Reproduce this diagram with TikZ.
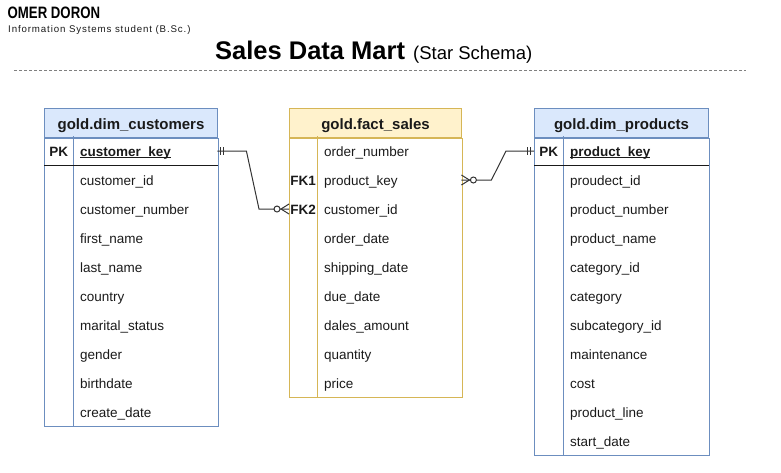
\documentclass[tikz,border=0pt]{standalone}
\usepackage{fontspec}
\setmainfont{Liberation Sans}
\newfontfamily\namefont[FakeStretch=0.8]{Liberation Sans}
\newfontfamily\spacedfont[LetterSpace=9]{Liberation Sans}
\usetikzlibrary{positioning}

\definecolor{dimfill}{HTML}{DAE8FC}
\definecolor{dimline}{HTML}{6C8EBF}
\definecolor{factfill}{HTML}{FFF2CC}
\definecolor{factline}{HTML}{D6B656}
\definecolor{txt}{HTML}{1A1A1A}
\definecolor{relline}{HTML}{333333}

\tikzset{
  tblhead/.style={draw, rectangle, minimum height=29pt, inner sep=0pt, line width=1pt,
    text height=13pt, text depth=1pt, text=txt, font=\fontsize{15}{18}\selectfont\bfseries},
  field/.style={anchor=west, minimum height=29pt, inner xsep=7pt, inner ysep=0pt,
    text height=12pt, text depth=2pt, text width=130pt, align=left, text=txt,
    font=\fontsize{13.5}{16}\selectfont},
  keycol/.style={anchor=west, minimum width=29pt, minimum height=29pt, inner sep=0pt,
    text height=12pt, text depth=2pt, text=txt, font=\fontsize{13.5}{16}\selectfont\bfseries},
  rel/.style={draw=relline, line width=1pt},
  sepline/.style={draw=gray, line width=1pt, dash pattern=on 3pt off 2pt},
}

\begin{document}
\begin{tikzpicture}[x=1pt, y=-1pt]
\useasboundingbox (0,0) rectangle (781,472);

% heading
\node[anchor=base west, inner sep=0pt, text=black,
  font=\fontsize{16.5}{18}\namefont\bfseries] (author) at (7.5,18.3) {OMER DORON};
\node[anchor=base west, inner sep=0pt, text=txt,
  font=\fontsize{9.7}{12}\spacedfont] (role) at (8,32.5) {Information Systems student (B.Sc.)};
\node[anchor=base west, inner sep=0pt, text=black] (title) at (215,59)
  {\fontsize{25.5}{30}\selectfont\bfseries Sales Data Mart\hspace{8pt}\mdseries\fontsize{18.5}{22}\selectfont(Star Schema)};
\coordinate (ruleL) at (14,70);
\coordinate (ruleR) at (746,70);
\draw[sepline] (ruleL) -- (ruleR);

% customers dimension
\node[tblhead, fill=dimfill, draw=dimline, minimum width=173pt, anchor=north west] (cust) at (44,108) {gold.dim\_customers};
\node[keycol] (custpk) at (44,151) {PK};
\foreach \f [count=\i] in {\textbf{\underline{\smash{customer\_key}}}, customer\_id, customer\_number,
    first\_name, last\_name, country, marital\_status, gender, birthdate, create\_date}
  \node[field] (cust\i) at (73,{122+29*\i}) {\f};
\draw[dimline, line width=1pt] (cust.south west) rectangle (cust.south east |- cust10.south);
\draw[dimline, line width=1pt] (cust1.north west) -- (cust10.south west);
\draw[txt, line width=1.2pt] (custpk.south west) -- (cust.east |- custpk.south);

% sales fact
\node[tblhead, fill=factfill, draw=factline, minimum width=172pt, anchor=north west] (fact) at (289,108) {gold.fact\_sales};
\node[keycol, minimum width=28pt] (factfk1) at (289,180) {FK1};
\node[keycol, minimum width=28pt] (factfk2) at (289,209) {FK2};
\foreach \f [count=\i] in {order\_number, product\_key, customer\_id, order\_date, shipping\_date,
    due\_date, dales\_amount, quantity, price}
  \node[field] (fact\i) at (317,{122+29*\i}) {\f};
\draw[factline, line width=1pt] (fact.south west) rectangle (fact.south east |- fact9.south);
\draw[factline, line width=1pt] (fact1.north west) -- (fact9.south west);

% products dimension
\node[tblhead, fill=dimfill, draw=dimline, minimum width=174pt, anchor=north west] (prod) at (534,108) {gold.dim\_products};
\node[keycol] (prodpk) at (534,151) {PK};
\foreach \f [count=\i] in {\textbf{\underline{\smash{product\_key}}}, proudect\_id, product\_number,
    product\_name, category\_id, category, subcategory\_id, maintenance, cost, product\_line, start\_date}
  \node[field] (prod\i) at (563,{122+29*\i}) {\f};
\draw[dimline, line width=1pt] (prod.south west) rectangle (prod.south east |- prod11.south);
\draw[dimline, line width=1pt] (prod1.north west) -- (prod11.south west);
\draw[txt, line width=1.2pt] (prodpk.south west) -- (prod.east |- prodpk.south);

% relationships
\draw[rel] (cust1.east) -- ++(29,0) -- ([xshift=-30pt]factfk2.west) -- (factfk2.west);
\draw[rel] (fact2.east) -- ++(30,0) -- ([xshift=-28pt]prodpk.west) -- (prodpk.west);

% one and only one
\foreach \d in {3,6}
  \draw[rel] ([xshift=\d pt]cust1.east) ++(0,-4) -- ++(0,8);
\foreach \d in {4,7}
  \draw[rel] ([xshift=-\d pt]prodpk.west) ++(0,-4) -- ++(0,8);

% zero or many
\draw[rel] ([yshift=5pt]factfk2.west) -- ([xshift=-8pt]factfk2.west) -- ([yshift=-5pt]factfk2.west);
\draw[rel, fill=white] ([xshift=-12pt]factfk2.west) circle (3pt);
\draw[rel] ([yshift=5pt]fact2.east) -- ([xshift=8pt]fact2.east) -- ([yshift=-5pt]fact2.east);
\draw[rel, fill=white] ([xshift=12pt]fact2.east) circle (3pt);

\end{tikzpicture}
\end{document}
